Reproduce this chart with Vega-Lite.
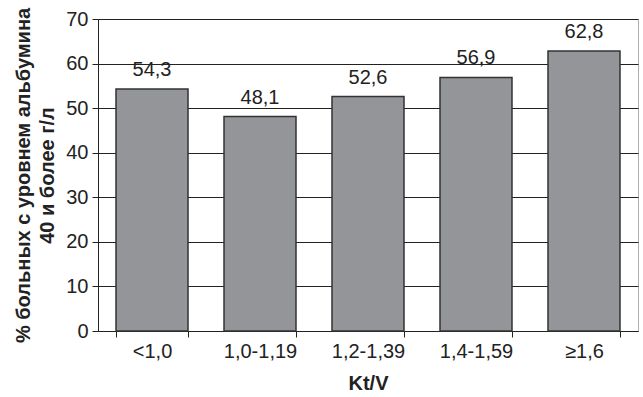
{
  "$schema": "https://vega.github.io/schema/vega-lite/v6.json",
  "autosize": "none",
  "width": 540,
  "height": 312,
  "padding": {"left": 98, "top": 19, "right": 5, "bottom": 66},
  "background": "white",
  "config": {
    "font": "Liberation Sans",
    "view": {"stroke": "#b0b0b0", "strokeWidth": 1}
  },
  "data": {
    "values": [
      {"ktv": "<1,0", "pct": 54.3, "label": "54,3"},
      {"ktv": "1,0-1,19", "pct": 48.1, "label": "48,1"},
      {"ktv": "1,2-1,39", "pct": 52.6, "label": "52,6"},
      {"ktv": "1,4-1,59", "pct": 56.9, "label": "56,9"},
      {"ktv": "≥1,6", "pct": 62.8, "label": "62,8"}
    ]
  },
  "encoding": {
    "x": {
      "field": "ktv",
      "type": "nominal",
      "sort": null,
      "scale": {"paddingInner": 0.3333, "paddingOuter": 0.1667},
      "axis": {
        "title": "Kt/V",
        "titleFont": "Liberation Sans",
        "titleFontSize": 20,
        "titleFontWeight": "bold",
        "titleColor": "#222",
        "titlePadding": 12,
        "labelAngle": 0,
        "labelFontSize": 20,
        "labelColor": "#222",
        "labelPadding": 4,
        "tickBand": "extent",
        "tickSize": 6,
        "tickColor": "#222",
        "domainColor": "#222",
        "grid": false
      }
    },
    "y": {
      "field": "pct",
      "type": "quantitative",
      "scale": {"domain": [0, 70]},
      "axis": {
        "title": ["% больных с уровнем альбумина", "40 и более г/л"],
        "titleFont": "Liberation Sans",
        "titleFontSize": 20,
        "titleFontWeight": "bold",
        "titleColor": "#222",
        "titlePadding": 8,
        "titleLineHeight": 24,
        "values": [0, 10, 20, 30, 40, 50, 60, 70],
        "labelFontSize": 20,
        "labelColor": "#222",
        "labelPadding": 4,
        "tickSize": 6,
        "tickColor": "#222",
        "domainColor": "#222",
        "grid": true,
        "gridColor": "#222",
        "gridOpacity": 1
      }
    }
  },
  "layer": [
    {
      "mark": {"type": "bar", "color": "#939598", "stroke": "#333333", "strokeWidth": 1.5}
    },
    {
      "mark": {"type": "text", "baseline": "alphabetic", "dy": -13, "fontSize": 20, "color": "#222"},
      "encoding": {"text": {"field": "label"}}
    }
  ]
}
